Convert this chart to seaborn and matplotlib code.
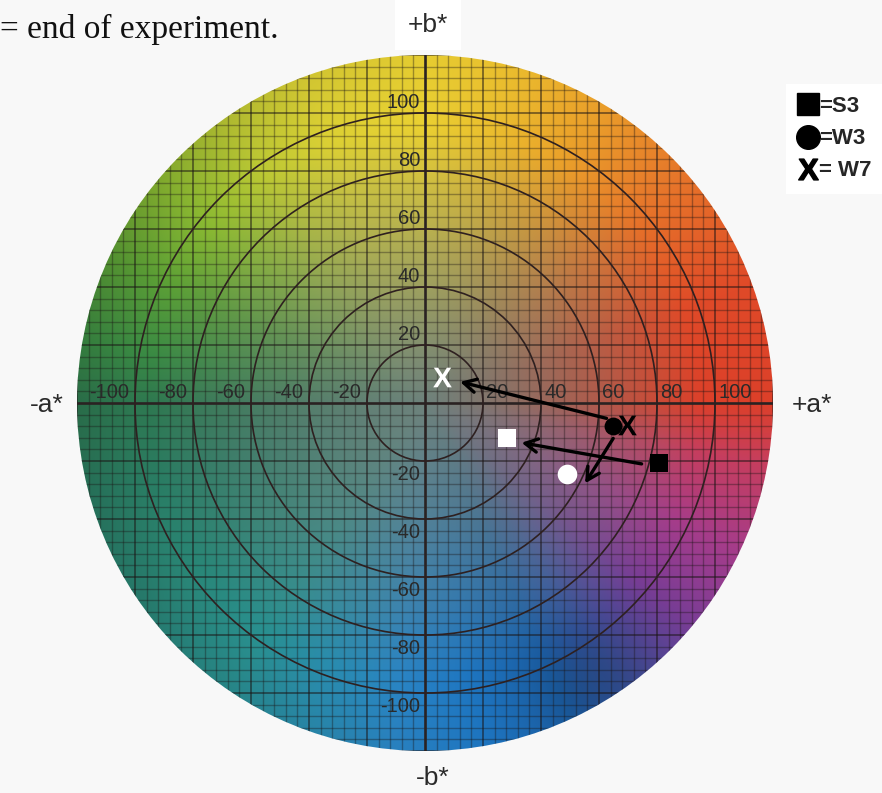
import numpy as np
import pandas as pd
import matplotlib
matplotlib.use("Agg")
import matplotlib.pyplot as plt
import seaborn as sns
from matplotlib.patches import Circle
from matplotlib.lines import Line2D

# ---------------- data (a*, b*) ----------------
samples = ["S3", "W3", "W7"]
start_a = [80.7, 64.9, 69.5]
start_b = [-20.6, -7.8, -7.6]
end_a = [28.2, 48.9, 5.8]
end_b = [-12.0, -24.5, 8.9]

# arrows (tail -> head) per sample
arrow_tail_a = [74.7, 64.9, 62.6]
arrow_tail_b = [-21.0, -12.2, -5.3]
arrow_head_a = [33.3, 55.2, 12.1]
arrow_head_b = [-13.7, -27.7, 7.3]

tick_values = [-100, -80, -60, -40, -20, 20, 40, 60, 80, 100]
ring_radii = [20, 40, 60, 80, 100]
grid_step = 4
major_grid_step = 20
disc_radius = 120

# hue stops of the colour wheel (angle from +a*, degrees)
hue_angles = [0, 20, 40, 60, 75, 90, 110, 125, 140, 155, 170, 180, 195, 215, 235,
              250, 265, 280, 295, 305, 320, 335, 350, 360]
hue_colors = ["#dc402a", "#e04a28", "#e6722a", "#eaa02a", "#eabc2e", "#ead032",
              "#dcd034", "#bcc834", "#8cba32", "#5ca036", "#3a8a44", "#2e7850",
              "#2a7c62", "#2a8676", "#2a9090", "#2a8cae", "#2a84c4", "#1e76c2",
              "#1e66b2", "#3a58a6", "#7a3e98", "#a63c8a", "#c63e5e", "#dc402a"]
center_gray = "#6e827c"
# dark navy patch near the lower-right rim
navy_a, navy_b, navy_w = 58, -96, 18

# ---------------- figure ----------------
sns.set_theme(style="white")
plt.rcParams["font.family"] = ["Liberation Sans", "DejaVu Sans"]
plt.rcParams["mathtext.fontset"] = "custom"
plt.rcParams["mathtext.bf"] = "Liberation Sans:bold"
plt.rcParams["mathtext.rm"] = "Liberation Sans"

W, H, DPI = 882, 793, 100
fig = plt.figure(figsize=(W / DPI, H / DPI), dpi=DPI, facecolor="#f8f8f8")
ax = fig.add_axes([0, 0, 1, 1])
ax.set_facecolor("#f8f8f8")
ppu = 2.9
cx, cy = 425, 403
ax.set_xlim(-cx / ppu, (W - cx) / ppu)
ax.set_ylim(-(H - cy) / ppu, cy / ppu)
ax.set_axis_off()

# colour field
n = 700
g = np.linspace(-disc_radius - 1, disc_radius + 1, n)
A, B = np.meshgrid(g, g)
R = np.hypot(A, B)
ang = np.degrees(np.arctan2(B, A)) % 360
rgb_stops = np.array([matplotlib.colors.to_rgb(c) for c in hue_colors])
hue = np.stack([np.interp(ang, hue_angles, rgb_stops[:, k]) for k in range(3)], axis=-1)
gray = np.array(matplotlib.colors.to_rgb(center_gray))
s = np.clip(R / 95.0, 0, 1) ** 1.1
img = gray + (hue - gray) * s[..., None]
vig = 1 - 0.10 * np.clip((R - 100) / 20, 0, 1) * np.clip(-A / disc_radius + 0.2, 0, 1)
vig *= 1 - 0.2 * np.exp(-((A - navy_a) ** 2 + (B - navy_b) ** 2) / (2 * navy_w ** 2))
img = np.clip(img * vig[..., None], 0, 1)
im = ax.imshow(img, extent=[g[0], g[-1], g[0], g[-1]], origin="lower",
               interpolation="bilinear", zorder=0)
im.set_clip_path(Circle((0, 0), disc_radius, transform=ax.transData))

# fine grid
grid_vals = np.arange(-disc_radius, disc_radius + 0.1, grid_step)
for v in grid_vals:
    if v == 0:
        continue
    major = (v % major_grid_step == 0)
    kw = dict(color="#1a1414", alpha=0.55 if major else 0.36, lw=1.3 if major else 1.0, zorder=1)
    l1, = ax.plot([v, v], [-disc_radius, disc_radius], **kw)
    l2, = ax.plot([-disc_radius, disc_radius], [v, v], **kw)
    l1.set_clip_path(Circle((0, 0), disc_radius, transform=ax.transData))
    l2.set_clip_path(Circle((0, 0), disc_radius, transform=ax.transData))

# main axes
for seg in ([[0, 0], [-disc_radius, disc_radius]], [[-disc_radius, disc_radius], [0, 0]]):
    ln, = ax.plot(seg[0], seg[1], color="#2a2222", lw=1.9, zorder=2)
    ln.set_clip_path(Circle((0, 0), disc_radius, transform=ax.transData))

# rings
for r in ring_radii:
    ax.add_patch(Circle((0, 0), r, fill=False, edgecolor="#2e2020", lw=1.2, zorder=2))

# tick labels
tick_kw = dict(fontsize=14.5, color="#2a2a2a", zorder=3, textcoords="offset points")
for v in tick_values:
    lab = str(v)
    if v > 0:
        ax.annotate(lab, (v, 0), xytext=(2.5, 3.5), ha="left", va="baseline", **tick_kw)
        ax.annotate(lab, (0, v), xytext=(-3.5, 3.5), ha="right", va="baseline", **tick_kw)
    else:
        ax.annotate(lab, (v, 0), xytext=(-4, 3.5), ha="right", va="baseline", **tick_kw)
        ax.annotate(lab, (0, v), xytext=(-3.5, -3), ha="right", va="top", **tick_kw)

# axis end labels
lab_kw = dict(fontsize=19, color="#2a2a2a", ha="center", va="center", zorder=3)
ax.text(1.0, 130.3, "+b*", bbox=dict(boxstyle="square,pad=0.5", fc="white", ec="none"), **lab_kw)
ax.text(2.8, -129.3, "-b*", **lab_kw)
ax.text(-130.3, -0.7, "-a*", **lab_kw)
ax.text(133.6, -0.7, "+a*", **lab_kw)

# arrows
for ta, tb, ha_, hb_ in zip(arrow_tail_a, arrow_tail_b, arrow_head_a, arrow_head_b):
    ax.annotate("", xy=(ha_, hb_), xytext=(ta, tb),
                arrowprops=dict(arrowstyle="->,head_length=0.75,head_width=0.4",
                                color="black", lw=2.4, shrinkA=0, shrinkB=0),
                zorder=4)

# markers
df = pd.DataFrame({
    "sample": samples * 2,
    "a": start_a + end_a,
    "b": start_b + end_b,
    "phase": ["start"] * 3 + ["end"] * 3,
})
marker_map = {"S3": "s", "W3": "o", "W7": r"$\mathbf{X}$"}
size_map = {"S3": 175, "W3": 165, "W7": 200}
for smp in samples:
    for phase, col in (("start", "black"), ("end", "white")):
        sub = df[(df["sample"] == smp) & (df["phase"] == phase)]
        sz = size_map[smp] if not (smp == "W3" and phase == "end") else 200
        sns.scatterplot(data=sub, x="a", y="b", marker=marker_map[smp], color=col,
                        s=sz, linewidth=0, edgecolor=col, ax=ax, zorder=5, legend=False)

# top-left caption fragment
fig.text(0.0, 1 - 38 / H, "= end of experiment.", fontsize=24,
         family=["Liberation Serif", "DejaVu Serif"], color="#111111",
         ha="left", va="baseline")

# legend
handles = [Line2D([], [], marker="s", ms=16, color="black", ls=""),
           Line2D([], [], marker="o", ms=17, color="black", ls=""),
           Line2D([], [], marker=r"$\mathbf{X}$", ms=15, color="black", ls="")]
labels = ["=S3", "=W3", "= W7"]
leg = fig.legend(handles, labels, loc="upper left", bbox_to_anchor=(786 / W, 1 - 84 / H),
                 frameon=True, facecolor="white", edgecolor="none", fancybox=False,
                 handlelength=0.85, handletextpad=0.1, labelspacing=0.5,
                 borderpad=0.55, borderaxespad=0,
                 prop={"family": "Liberation Sans", "weight": "bold", "size": 16})
leg.get_frame().set_alpha(1)

fig.savefig("out.png", dpi=DPI, facecolor=fig.get_facecolor())
